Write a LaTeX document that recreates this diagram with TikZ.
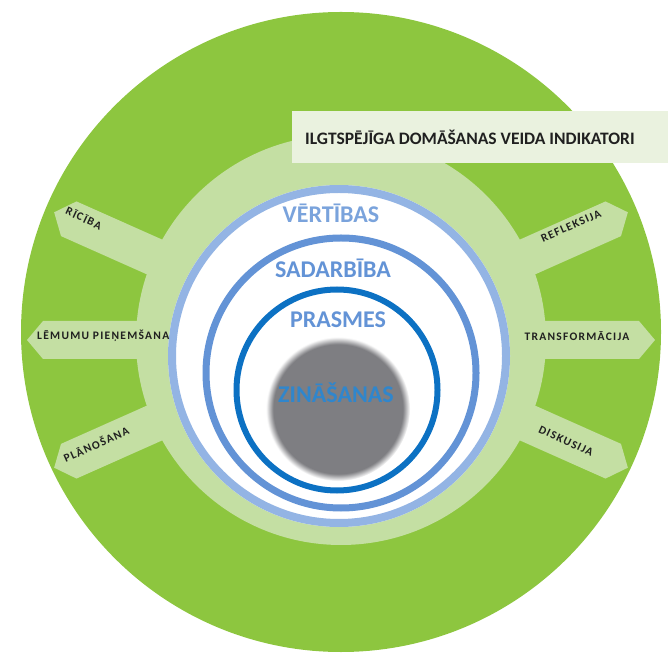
\documentclass[tikz,border=0pt]{standalone}
\usepackage{fontspec}
\setmainfont{Carlito}
\newfontfamily\spacedfont[LetterSpace=11]{Carlito}
\pgfdeclarelayer{background layer}
\pgfsetlayers{background layer,main}
\definecolor{leafgreen}{HTML}{8DC63F}
\definecolor{gearfill}{HTML}{C4DFA3}
\definecolor{gearshade}{HTML}{707868}
\definecolor{bannerfill}{HTML}{EAF2DF}
\definecolor{ringlight}{HTML}{93B4E4}
\definecolor{ringmid}{HTML}{6393D6}
\definecolor{ringdeep}{HTML}{0C71C3}
\definecolor{coregrey}{HTML}{7E7E82}
\definecolor{labeldark}{HTML}{202020}
\pgfdeclareradialshading{coreblur}{\pgfpoint{0bp}{0bp}}{color(0bp)=(coregrey); color(22.5bp)=(coregrey); color(25bp)=(white); color(50bp)=(white)}
\tikzstyle{ringlabel}=[font=\bfseries\fontsize{24}{24}\selectfont,inner sep=0pt]
\tikzstyle{spokelabel}=[font=\spacedfont\bfseries\fontsize{11.5}{11.5}\selectfont,text=labeldark,inner sep=0pt]
\tikzstyle{ring}=[line width=7pt]

\begin{document}
\begin{tikzpicture}[x=1pt,y=1pt]
		\useasboundingbox (0,0) rectangle (668,653);
		\fill [leafgreen] (341,321) circle (320);
		
		% gear with its shadow
		\begin{pgfonlayer}{background layer}
			\fill [gearshade] (338,316) circle (205);
			\foreach \ang in {156,180,204,24,0,-24}
				\fill [gearshade,shift={(338,316)},rotate=\ang] (150,-19)--(298,-19)--(314,0)--(298,19)--(150,19)--cycle;
		\end{pgfonlayer}
		\fill [gearfill] (341,313) circle (205);
		\foreach \ang in {156,180,204,24,0,-24}
			\fill [gearfill,shift={(341,313)},rotate=\ang] (150,-19)--(298,-19)--(314,0)--(298,19)--(150,19)--cycle;
		
		\fill [bannerfill] (292,490) rectangle (668,542);
		\node (banner) at (305,516) [anchor=west,inner sep=0pt,text=labeldark,font=\bfseries\fontsize{17.5}{17.5}\selectfont] {ILGTSPĒJĪGA DOMĀŠANAS VEIDA INDIKATORI};
		
		% rings
		\fill [white] (339,297) circle (171);
		\draw [ring,ringlight,line width=8pt] (339,297) circle (167);
		\draw [ring,ringmid] (341,280) circle (135);
		\draw [ring,ringdeep,line width=6pt] (337,263) circle (100.5);
		\shade [shading=coreblur] (338,244) circle (72);
		
		\node (values) at (331,440) [ringlabel,text=ringmid!85!white] {VĒRTĪBAS};
		\node (cooperation) at (333,385) [ringlabel,text=ringmid] {SADARBĪBA};
		\node (skills) at (338,333) [ringlabel,text=ringmid] {PRASMES};
		\node (knowledge) at (336,260) [ringlabel,text=ringdeep!85!white] {ZINĀŠANAS};
		
		\node (action) at (84,435) [spokelabel,rotate=-25] {RĪCĪBA};
		\node (decision) at (37,317) [spokelabel,anchor=west] {LĒMUMU PIEŅEMŠANA};
		\node (planning) at (96,209) [spokelabel,rotate=24] {PLĀNOŠANA};
		\node (reflection) at (571,427) [spokelabel,rotate=24] {REFLEKSIJA};
		\node (transform) at (577,317) [spokelabel] {TRANSFORMĀCIJA};
		\node (discussion) at (566,212) [spokelabel,rotate=-25] {DISKUSIJA};
	\end{tikzpicture}
\end{document}
